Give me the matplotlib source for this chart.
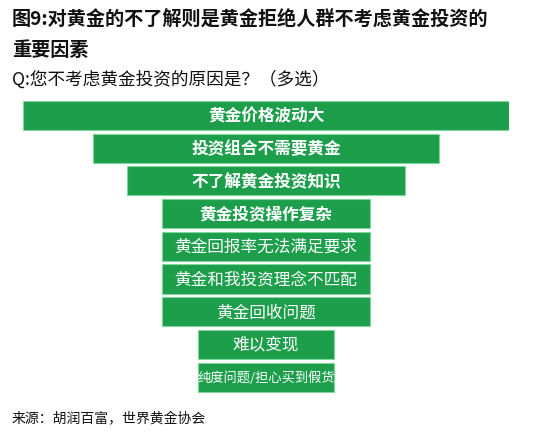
import matplotlib.pyplot as plt

plt.rcParams['font.family'] = ['Noto Sans CJK SC', 'DejaVu Sans']

reasons = ["黄金价格波动大", "投资组合不需要黄金", "不了解黄金投资知识", "黄金投资操作复杂",
           "黄金回报率无法满足要求", "黄金和我投资理念不匹配", "黄金回收问题", "难以变现",
           "纯度问题/担心买到假货"]
widths = [100, 71, 57, 43, 43, 43, 43, 28, 28]
bold = [True, True, True, True, False, False, False, False, False]
sizes = [12, 12, 12, 12, 12, 12, 12, 12, 9.5]

fig = plt.figure(figsize=(5.37, 4.35), dpi=100)
fig.patch.set_facecolor("white")

ax = fig.add_axes([23 / 537, 1 - 394.4 / 435, 486 / 537, 294.2 / 435])
ypos = list(range(len(reasons)))
lefts = [-w / 2 for w in widths]
ax.barh(ypos, widths, left=lefts, height=0.89, color="#1c9e4b",
        edgecolor="#7fd79b", linewidth=0.8)
for y, lab, b, s in zip(ypos, reasons, bold, sizes):
    ax.text(0, y, lab, ha="center", va="center", color="white",
            fontsize=s, fontweight="bold" if b else "normal")
ax.set_xlim(-50, 50)
ax.set_ylim(8.5, -0.5)
ax.axis("off")

fig.text(12 / 537, 1 - 20 / 435, "图9:对黄金的不了解则是黄金拒绝人群不考虑黄金投资的",
         fontsize=13.8, fontweight="bold", va="center", ha="left", color="#111111")
fig.text(12 / 537, 1 - 51 / 435, "重要因素",
         fontsize=13.8, fontweight="bold", va="center", ha="left", color="#111111")
fig.text(12 / 537, 1 - 80 / 435, "Q:您不考虑黄金投资的原因是？（多选）",
         fontsize=12.7, va="center", ha="left", color="#111111")
fig.text(12 / 537, 1 - 419 / 435, "来源：胡润百富，世界黄金协会",
         fontsize=10, va="center", ha="left", color="#111111")

fig.savefig("out.png", dpi=100)
